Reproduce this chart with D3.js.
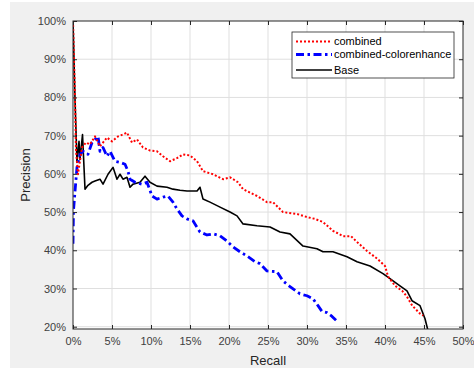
<!DOCTYPE html>
<html>
<head>
<meta charset="utf-8">
<script src="https://cdn.jsdelivr.net/npm/d3@7"></script>
<style>
  body { margin: 0; background: #fff; }
  svg { display: block; font-family: "Liberation Sans", Arial, sans-serif; }
</style>
</head>
<body>
<div id="chart"></div>
<script>
// recall / precision pairs
const baseRecall = [0, 0.0026, 0.0051, 0.0077, 0.009, 0.0122, 0.0154, 0.0192, 0.0244, 0.0282, 0.0346, 0.0385, 0.0449, 0.0513, 0.0564, 0.0603, 0.0641, 0.0692, 0.0731, 0.0769, 0.0859, 0.0923, 0.0987, 0.1077, 0.1205, 0.1282, 0.1372, 0.1462, 0.159, 0.1628, 0.1667, 0.1756, 0.1885, 0.2013, 0.2103, 0.218, 0.2359, 0.2526, 0.2654, 0.2782, 0.2949, 0.3128, 0.3205, 0.3333, 0.3513, 0.3641, 0.3808, 0.3974, 0.4064, 0.4192, 0.4282, 0.4346, 0.4449, 0.4513, 0.4551];
const basePrecision = [1.0, 0.794, 0.630, 0.685, 0.638, 0.703, 0.560, 0.570, 0.578, 0.581, 0.586, 0.573, 0.599, 0.617, 0.586, 0.599, 0.586, 0.591, 0.565, 0.573, 0.578, 0.594, 0.578, 0.568, 0.565, 0.560, 0.557, 0.555, 0.555, 0.565, 0.534, 0.526, 0.513, 0.500, 0.490, 0.469, 0.464, 0.461, 0.448, 0.443, 0.411, 0.404, 0.396, 0.396, 0.383, 0.370, 0.359, 0.339, 0.326, 0.307, 0.294, 0.268, 0.255, 0.221, 0.19];

const combRecall = [0, 0.0026, 0.0038, 0.0064, 0.0115, 0.0167, 0.0218, 0.0282, 0.0346, 0.0436, 0.05, 0.0577, 0.0641, 0.0692, 0.0756, 0.0821, 0.0897, 0.0987, 0.1077, 0.1154, 0.1244, 0.1333, 0.141, 0.15, 0.159, 0.1667, 0.1795, 0.1923, 0.2013, 0.2115, 0.218, 0.2359, 0.2487, 0.2564, 0.2692, 0.2872, 0.3, 0.3103, 0.3205, 0.3333, 0.3462, 0.3564, 0.364, 0.377, 0.39, 0.4, 0.404, 0.413, 0.422, 0.428, 0.435, 0.445, 0.449];
const combPrecision = [1.0, 0.794, 0.664, 0.599, 0.669, 0.682, 0.677, 0.698, 0.672, 0.695, 0.685, 0.698, 0.703, 0.708, 0.682, 0.690, 0.669, 0.661, 0.659, 0.646, 0.633, 0.641, 0.651, 0.648, 0.633, 0.607, 0.599, 0.586, 0.591, 0.578, 0.560, 0.542, 0.526, 0.526, 0.500, 0.495, 0.487, 0.482, 0.474, 0.451, 0.437, 0.437, 0.422, 0.398, 0.378, 0.359, 0.331, 0.307, 0.294, 0.279, 0.255, 0.234, 0.229];

const colorRecall = [0, 0.0006, 0.0026, 0.0051, 0.009, 0.0128, 0.0192, 0.0244, 0.0321, 0.0346, 0.0385, 0.0436, 0.0474, 0.0538, 0.0603, 0.0667, 0.0705, 0.0731, 0.0795, 0.0885, 0.0949, 0.1013, 0.1077, 0.1154, 0.1218, 0.1282, 0.1333, 0.1397, 0.1462, 0.1538, 0.1628, 0.1718, 0.1795, 0.1885, 0.1974, 0.2051, 0.2141, 0.2231, 0.2333, 0.2397, 0.2487, 0.2615, 0.2692, 0.2782, 0.291, 0.3, 0.3077, 0.3141, 0.3192, 0.3256, 0.3321, 0.3385];
const colorPrecision = [0.417, 0.503, 0.555, 0.617, 0.651, 0.659, 0.651, 0.682, 0.698, 0.659, 0.669, 0.646, 0.659, 0.633, 0.630, 0.625, 0.607, 0.586, 0.578, 0.573, 0.578, 0.542, 0.534, 0.539, 0.542, 0.526, 0.508, 0.490, 0.482, 0.477, 0.448, 0.440, 0.443, 0.438, 0.424, 0.409, 0.396, 0.385, 0.370, 0.365, 0.346, 0.344, 0.320, 0.305, 0.286, 0.281, 0.273, 0.255, 0.240, 0.237, 0.227, 0.214];

const xTicks = [0, 0.05, 0.1, 0.15, 0.2, 0.25, 0.3, 0.35, 0.4, 0.45, 0.5];
const yTicks = [0.2, 0.3, 0.4, 0.5, 0.6, 0.7, 0.8, 0.9, 1.0];
const legendLabels = ["combined", "combined-colorenhance", "Base"];

const width = 474, height = 370;
const margin = { left: 73, right: 11, top: 21, bottom: 41 };
const axisColor = "#262626";

const svg = d3.select("#chart").append("svg")
  .attr("width", width)
  .attr("height", height);

// figure background
svg.append("rect")
  .attr("x", 10).attr("y", 2)
  .attr("width", width - 10).attr("height", 366)
  .attr("fill", "#f0f0f0");

const x = d3.scaleLinear().domain([0, 0.5]).range([margin.left, width - margin.right]);
const y = d3.scaleLinear().domain([0.194, 1]).range([height - margin.bottom, margin.top]);

// plot area
svg.append("rect")
  .attr("x", x(0)).attr("y", y(1))
  .attr("width", x(0.5) - x(0)).attr("height", y(0.194) - y(1))
  .attr("fill", "#fff");

// grid
svg.append("g").selectAll("line")
  .data(xTicks.slice(1, -1))
  .join("line")
  .attr("x1", d => x(d)).attr("x2", d => x(d))
  .attr("y1", y(1)).attr("y2", y(0.194))
  .attr("stroke", "#dfdfdf");
svg.append("g").selectAll("line")
  .data(yTicks.slice(0, -1))
  .join("line")
  .attr("x1", x(0)).attr("x2", x(0.5))
  .attr("y1", d => y(d)).attr("y2", d => y(d))
  .attr("stroke", "#dfdfdf");

svg.append("clipPath").attr("id", "clip")
  .append("rect")
  .attr("x", x(0)).attr("y", y(1))
  .attr("width", x(0.5) - x(0)).attr("height", y(0.194) - y(1));

const line = d3.line().x(d => x(d[0])).y(d => y(d[1]));
const zip = (a, b) => a.map((v, i) => [v, b[i]]);

const styles = [
  { color: "#ff0000", width: 2, dash: "2 2" },
  { color: "#0000ff", width: 2.8, dash: "8 3.5 2.5 3.5" },
  { color: "#000000", width: 1.6, dash: null }
];
const series = [zip(combRecall, combPrecision), zip(colorRecall, colorPrecision), zip(baseRecall, basePrecision)];

const plot = svg.append("g").attr("clip-path", "url(#clip)");
// draw base, then colorenhance, then combined on top
[2, 1, 0].forEach(i => {
  plot.append("path")
    .datum(series[i])
    .attr("d", line)
    .attr("fill", "none")
    .attr("stroke", styles[i].color)
    .attr("stroke-width", styles[i].width)
    .attr("stroke-dasharray", styles[i].dash)
    .attr("stroke-linejoin", "round");
});

// axes (box with inward ticks)
const tickLen = 4;
svg.append("g")
  .attr("transform", `translate(0,${y(0.194)})`)
  .call(d3.axisBottom(x).tickValues(xTicks).tickSize(-tickLen).tickPadding(8).tickFormat(d => Math.round(d * 100) + "%"))
  .call(g => g.select(".domain").remove());
svg.append("g")
  .attr("transform", `translate(0,${y(1)})`)
  .call(d3.axisTop(x).tickValues(xTicks).tickSize(-tickLen).tickFormat(""))
  .call(g => g.select(".domain").remove());
svg.append("g")
  .attr("transform", `translate(${x(0)},0)`)
  .call(d3.axisLeft(y).tickValues(yTicks).tickSize(-tickLen).tickPadding(7).tickFormat(d => Math.round(d * 100) + "%"))
  .call(g => g.select(".domain").remove());
svg.append("g")
  .attr("transform", `translate(${x(0.5)},0)`)
  .call(d3.axisRight(y).tickValues(yTicks).tickSize(-tickLen).tickFormat(""))
  .call(g => g.select(".domain").remove());

svg.selectAll(".tick line").attr("stroke", axisColor);
svg.selectAll(".tick text")
  .attr("fill", "#404040")
  .style("font-size", "11px")
  .style("font-family", "'Liberation Sans', Arial, sans-serif");

svg.append("rect")
  .attr("x", x(0)).attr("y", y(1))
  .attr("width", x(0.5) - x(0)).attr("height", y(0.194) - y(1))
  .attr("fill", "none")
  .attr("stroke", axisColor)
  .attr("stroke-width", 1);

// axis labels
svg.append("text")
  .attr("x", (x(0) + x(0.5)) / 2).attr("y", 365)
  .attr("text-anchor", "middle")
  .attr("fill", "#262626")
  .style("font-size", "13px")
  .text("Recall");
svg.append("text")
  .attr("transform", `translate(30,${(y(1) + y(0.194)) / 2}) rotate(-90)`)
  .attr("text-anchor", "middle")
  .attr("fill", "#262626")
  .style("font-size", "13px")
  .text("Precision");

// legend
const legend = svg.append("g").attr("transform", "translate(292,32)");
legend.append("rect")
  .attr("width", 162).attr("height", 46)
  .attr("fill", "#fff")
  .attr("stroke", axisColor)
  .attr("stroke-width", 0.8);
const items = legend.selectAll("g.item")
  .data(legendLabels)
  .join("g")
  .attr("class", "item")
  .attr("transform", (d, i) => `translate(0,${[9.5, 22.5, 38][i]})`);
items.append("line")
  .attr("x1", 4).attr("x2", 40)
  .attr("stroke", (d, i) => styles[i].color)
  .attr("stroke-width", (d, i) => styles[i].width)
  .attr("stroke-dasharray", (d, i) => styles[i].dash);
items.append("text")
  .attr("x", 42).attr("dy", "0.35em")
  .attr("fill", "#000")
  .style("font-size", "11px")
  .text(d => d);
</script>
</body>
</html>
